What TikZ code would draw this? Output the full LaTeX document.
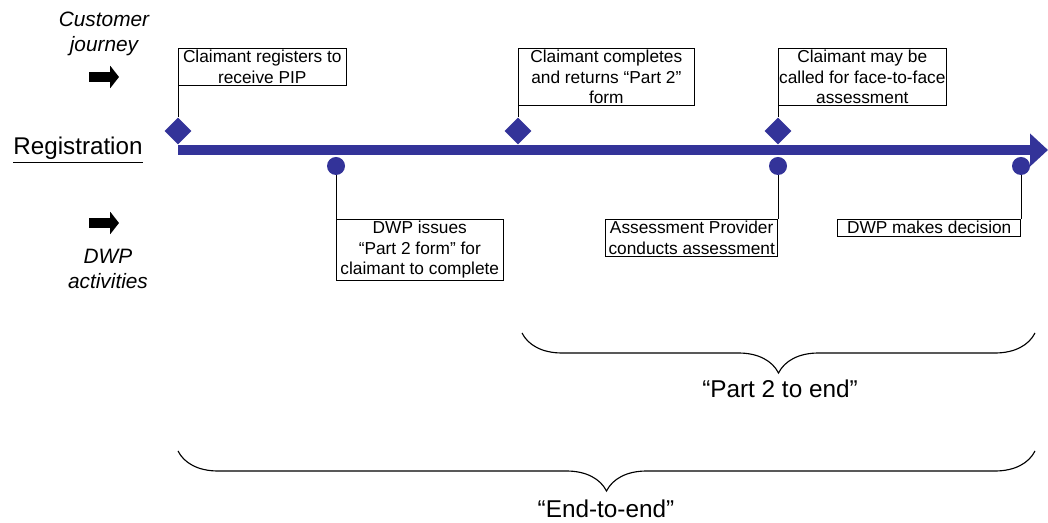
\documentclass[tikz,border=0pt]{standalone}
\usepackage{fontspec}
\setmainfont{Liberation Sans}
\usetikzlibrary{shapes.geometric,arrows.meta,decorations.pathreplacing}

\definecolor{tlblue}{RGB}{51,51,153}

\tikzset{
  evbox/.style={draw, thin, align=center, inner xsep=0pt, inner ysep=1.5pt,
    font=\fontsize{12.3}{14.4}\selectfont},
  cjmark/.style={diamond, fill=tlblue, inner sep=0pt, minimum size=0.68cm},
  dwpmark/.style={circle, fill=tlblue, inner sep=0pt, minimum size=0.45cm},
  sidelabel/.style={align=center, font=\fontsize{14.8}{17.5}\selectfont\itshape},
  blockarrow/.style={line width=0.24cm, -{Triangle[length=0.22cm,width=0.55cm]}},
  spanbrace/.style={decorate, decoration={brace, mirror, amplitude=1cm}, thick},
  spanlabel/.style={font=\fontsize{17.3}{20}\selectfont}
}

\begin{document}
\begin{tikzpicture}[x=0.025cm, y=-0.025cm]
  \useasboundingbox (0,0) rectangle (1048,523);

  % side labels
  \node[sidelabel] (cj) at (104,34) {Customer\\journey};
  \coordinate (cja) at (89,77);
  \coordinate (cjb) at (119,77);
  \draw[blockarrow] (cja) -- (cjb);
  \node[font=\fontsize{17.2}{20}\selectfont] (reg) at (78,150) {\underline{Registration}};
  \coordinate (dwa) at (89,223);
  \coordinate (dwb) at (119,223);
  \draw[blockarrow] (dwa) -- (dwb);
  \node[sidelabel] (dwp) at (108,269) {DWP\\activities};

  % timeline
  \coordinate (tstart) at (178,150);
  \coordinate (tend) at (1048,150);
  \draw[tlblue, line width=0.25cm, -{Triangle[length=0.45cm,width=0.8cm]}] (tstart) -- (tend);

  % customer journey marks
  \node[cjmark] (d1) at (178,131) {};
  \node[cjmark] (d2) at (518,131) {};
  \node[cjmark] (d3) at (778,131) {};

  % DWP marks
  \node[dwpmark] (c1) at (336,166) {};
  \node[dwpmark] (c2) at (778,166) {};
  \node[dwpmark] (c3) at (1021,166) {};

  % boxes above
  \node[evbox, minimum width=4.2cm, anchor=north west] (b1) at (178,48)
    {Claimant registers to\\receive PIP};
  \node[evbox, minimum width=4.4cm, anchor=north west] (b2) at (518,48)
    {Claimant completes\\and returns “Part 2”\\form};
  \node[evbox, minimum width=4.2cm, anchor=north west] (b3) at (778,48)
    {Claimant may be\\called for face-to-face\\assessment};

  % boxes below
  \node[evbox, minimum width=4.175cm, anchor=north west] (b4) at (336,219)
    {DWP issues\\“Part 2 form” for\\claimant to complete};
  \node[evbox, minimum width=4.3cm, anchor=north east] (b5) at (778,219)
    {Assessment Provider\\conducts assessment};
  \node[evbox, minimum width=4.575cm, anchor=north east] (b6) at (1021,219)
    {DWP makes decision};

  \draw (b1.south west) -- (d1.north);
  \draw (b2.south west) -- (d2.north);
  \draw (b3.south west) -- (d3.north);
  \draw (c1.south) -- (b4.north west);
  \draw (c2.south) -- (b5.north east);
  \draw (c3.south) -- (b6.north east);

  % spans
  \coordinate (p2a) at (522,333);
  \coordinate (p2b) at (1035,333);
  \draw[spanbrace] (p2a) -- (p2b);
  \node[spanlabel] (p2lab) at (780,389) {“Part 2 to end”};
  \coordinate (e2a) at (178,451);
  \coordinate (e2b) at (1035,451);
  \draw[spanbrace] (e2a) -- (e2b);
  \node[spanlabel] (e2lab) at (606,509) {“End-to-end”};
\end{tikzpicture}
\end{document}
